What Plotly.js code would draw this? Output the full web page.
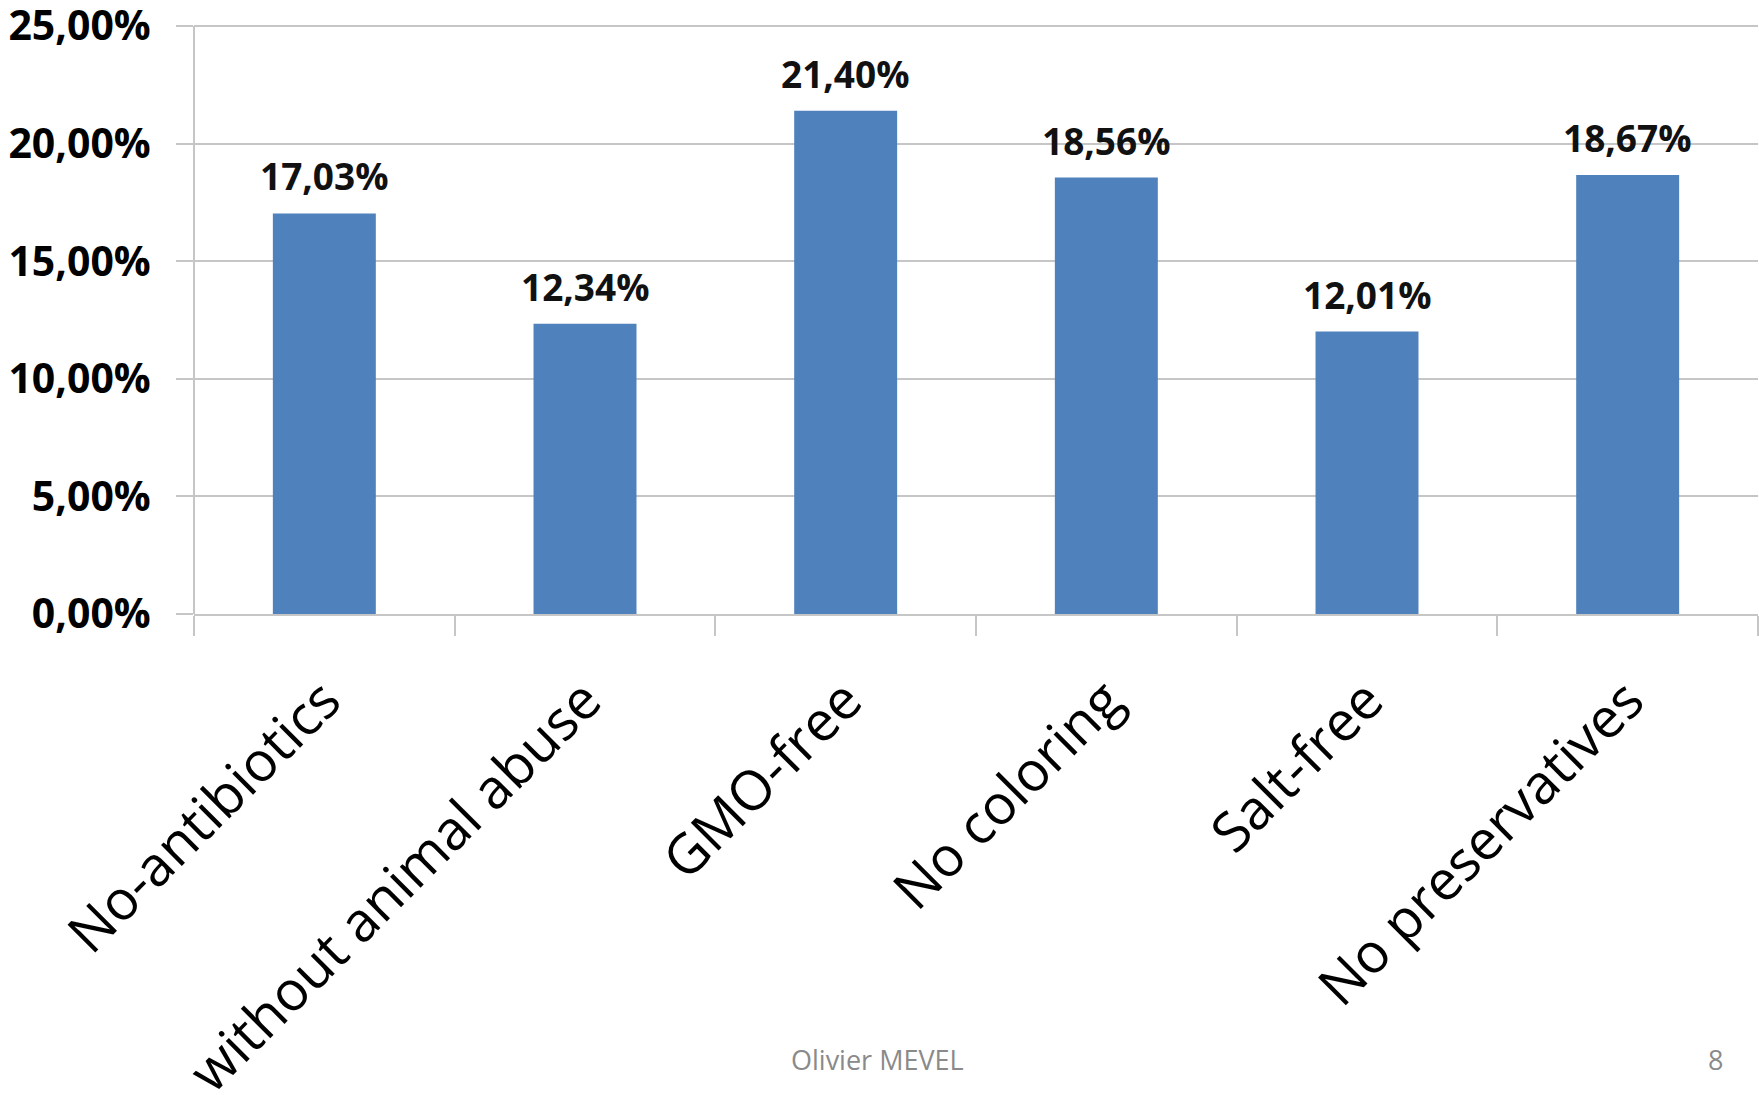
<!DOCTYPE html>
<html>
<head>
<meta charset="utf-8">
<script src="https://cdn.plot.ly/plotly-3.0.1.min.js"></script>
<style>
html,body{margin:0;padding:0;background:#fff;overflow:hidden;}
#chart{width:1759px;height:1095px;}
</style>
</head>
<body>
<div id="chart"></div>
<script>
const categories = ["No-antibiotics", "without animal abuse", "GMO-free", "No coloring", "Salt-free", "No preservatives"];
const values = [17.03, 12.34, 21.40, 18.56, 12.01, 18.67];
const yTicks = [0, 5, 10, 15, 20, 25];
const footerText = "Olivier MEVEL";
const pageNumber = "8";

const fmt = v => v.toFixed(2).replace('.', ',') + '%';

const trace = {
  type: 'bar',
  x: categories,
  y: values,
  marker: {color: '#4F81BD', line: {width: 0}},
  width: 0.395,
  hoverinfo: 'none'
};

const annotations = categories.map((c, i) => ({
  x: c, y: values[i], xref: 'x', yref: 'y',
  text: fmt(values[i]), showarrow: false,
  yanchor: 'bottom', yshift: 10,
  font: {family: 'Open Sans', size: 37, color: '#111', weight: 700}
}));
// paper coords: plot area spans y 19..614 (595 px)
annotations.push({
  xref: 'paper', yref: 'paper', x: 0.437, y: -0.748, yanchor: 'middle', xanchor: 'center',
  text: footerText, showarrow: false,
  font: {family: 'Open Sans', size: 27, color: '#8a8a8a'}
});
annotations.push({
  xref: 'paper', yref: 'paper', x: 0.973, y: -0.748, yanchor: 'middle', xanchor: 'center',
  text: pageNumber, showarrow: false,
  font: {family: 'Open Sans', size: 27, color: '#8a8a8a'}
});

const layout = {
  width: 1759, height: 1095,
  margin: {l: 194, r: 1, t: 19, b: 481, pad: 0},
  paper_bgcolor: '#fff', plot_bgcolor: '#fff',
  separators: ', ',
  showlegend: false,
  bargap: 0.605,
  xaxis: {
    type: 'category',
    tickangle: -45,
    tickson: 'boundaries',
    ticks: 'outside', ticklen: 20, tickwidth: 2, tickcolor: '#C6C6C6',
    showline: true, linecolor: '#C6C6C6', linewidth: 2,
    showgrid: false, zeroline: false,
    automargin: false,
    ticklabelstandoff: 30,
    ticklabeloverflow: 'allow',
    tickfont: {family: 'Open Sans', size: 55, color: '#000'}
  },
  yaxis: {
    range: [0, 25.3],
    tickmode: 'array',
    tickvals: yTicks,
    ticktext: yTicks.map(fmt),
    ticks: 'outside', ticklen: 17, tickwidth: 2, tickcolor: '#C6C6C6',
    showline: false,
    showgrid: true, gridcolor: '#C6C6C6', gridwidth: 2,
    zeroline: false,
    automargin: false,
    ticklabelstandoff: 17,
    ticklabeloverflow: 'allow',
    tickfont: {family: 'Open Sans', size: 41, color: '#000', weight: 700}
  },
  shapes: [{
    type: 'line', xref: 'paper', yref: 'y', x0: 0, x1: 0, y0: 0, y1: yTicks[yTicks.length - 1],
    line: {color: '#C6C6C6', width: 2}
  }],
  annotations: annotations
};

Plotly.newPlot('chart', [trace], layout, {displayModeBar: false, staticPlot: true});
</script>
</body>
</html>
